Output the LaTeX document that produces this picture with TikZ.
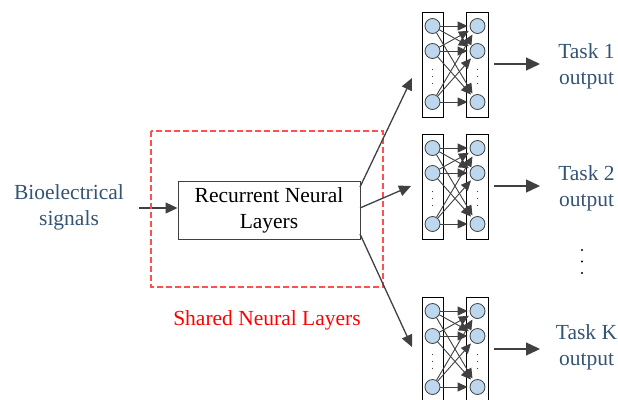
\documentclass[tikz,border=0pt]{standalone}
\usepackage{fontspec}
\setmainfont{Liberation Serif}
\newfontfamily\timesfont{Liberation Serif}
\usetikzlibrary{arrows.meta}
\definecolor{txtblue}{RGB}{52,84,117}
\definecolor{linegray}{RGB}{64,64,64}
\definecolor{neuronfill}{RGB}{189,215,238}
\definecolor{dashred}{RGB}{255,80,80}
\tikzset{
  lbl/.style={inner sep=0pt, align=center, font=\timesfont\fontsize{21.5pt}{26pt}\selectfont},
  bluelbl/.style={lbl, text=txtblue},
  mainarrow/.style={draw=linegray, line width=1.3pt, -{Triangle[length=12pt,width=11pt]}},
  outarrow/.style={draw=linegray, line width=1.3pt, -{Triangle[length=14pt,width=13pt]}},
  netarrow/.style={draw=linegray, line width=0.9pt, -{Triangle[length=10pt,width=9pt]}, shorten >=2pt},
  netbox/.style={draw=black, line width=1pt},
  neuron/.style={circle, draw=linegray, fill=neuronfill, line width=0.8pt, minimum size=15pt, inner sep=0pt},
  rnnbox/.style={draw=linegray, line width=1pt, minimum width=182pt, minimum height=58pt, inner sep=0pt}
}
\begin{document}
\begin{tikzpicture}[x=1pt, y=-1pt]
\useasboundingbox (0,0) rectangle (618,399);

% input
\node[bluelbl] (bio) at (69,207) {Bioelectrical\\signals};
\coordinate (inS) at (139,208);

% shared recurrent block
\node[rnnbox, lbl] (rnn) at (269,210) {Recurrent Neural\\Layers};
\draw[mainarrow] (inS) -- (rnn.west |- inS);
\draw[dashred, dashed, dash pattern=on 6pt off 3pt, line width=1.2pt] (151,131) rectangle (383,287);
\node[lbl, text=red] (shared) at (267,320) {Shared Neural Layers};

% branch points towards task heads
\coordinate (b1s) at (360,187);
\coordinate (b2s) at (360,208);
\coordinate (b3s) at (360,234);
\coordinate (b1e) at (412,78);
\coordinate (b2e) at (411,186);
\coordinate (b3e) at (412,347);
\draw[mainarrow] (b1s) -- (b1e);
\draw[mainarrow] (b2s) -- (b2e);
\draw[mainarrow] (b3s) -- (b3e);

% task-specific heads
\foreach \t/\k in {12/1,134/2,297/3}{
  \draw[netbox] (422,\t) rectangle (443,{\t+105});
  \draw[netbox] (466,\t) rectangle (488,{\t+105});
  \node[neuron] (L\k-1) at (432.5,{\t+14}) {};
  \node[neuron] (L\k-2) at (432.5,{\t+39}) {};
  \node[neuron] (L\k-3) at (432.5,{\t+90}) {};
  \node[neuron] (R\k-1) at (477.5,{\t+14}) {};
  \node[neuron] (R\k-2) at (477.5,{\t+39}) {};
  \node[neuron] (R\k-3) at (477.5,{\t+90}) {};
  \foreach \i in {1,2,3}{
    \foreach \j in {1,2,3}{
      \draw[netarrow] (L\k-\i) -- (R\k-\j);
    }
  }
  \foreach \d in {-7,0,7}{
    \fill[linegray] (432.5,{\t+64.5+\d}) circle (0.6pt);
    \fill[linegray] (477.5,{\t+64.5+\d}) circle (0.6pt);
  }
  \coordinate (o\k s) at (494,{\t+52});
  \coordinate (o\k e) at (540,{\t+52});
  \draw[outarrow] (o\k s) -- (o\k e);
}

\node[bluelbl] (task1) at (586.5,66) {Task 1\\output};
\node[bluelbl] (task2) at (586.5,188) {Task 2\\output};
\node[bluelbl] (taskK) at (586.5,347) {Task K\\output};

% vertical ellipsis between the task outputs
\foreach \y in {250,261.5,273}{
  \fill[black] (582,\y) circle (1.1pt);
}
\end{tikzpicture}
\end{document}
